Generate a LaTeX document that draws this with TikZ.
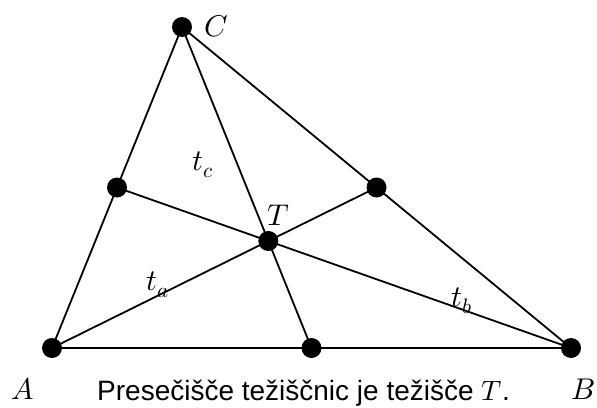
\documentclass[tikz,border=0pt]{standalone}
\usepackage{fontspec}
\setmainfont{Liberation Sans}
\usepackage{unicode-math}
\setmathfont{Latin Modern Math}
\usetikzlibrary{calc}
\begin{document}
\begin{tikzpicture}[x=1pt,y=-1pt,
  dot/.style={circle,fill=black,inner sep=0pt,minimum size=20pt},
  seg/.style={line width=1.8pt,black},
  lbl/.style={inner sep=0pt,font=\fontsize{30}{32}\selectfont},
  captext/.style={inner sep=0pt,anchor=base,font=\fontsize{28}{32}\selectfont}]
\useasboundingbox (0,0) rectangle (597,407);
\coordinate (A) at (52,348);
\coordinate (B) at (571,348);
\coordinate (C) at (182,27);
\coordinate (Mc) at ($(A)!0.5!(B)$);
\coordinate (Ma) at ($(B)!0.5!(C)$);
\coordinate (Mb) at ($(A)!0.5!(C)$);
\coordinate (T) at (268.33,241);
\draw[seg] (A) -- (B) -- (C) -- cycle;
\draw[seg] (A) -- (Ma);
\draw[seg] (B) -- (Mb);
\draw[seg] (C) -- (Mc);
\foreach \p in {A,B,C,Ma,Mb,Mc,T} \node[dot] (d\p) at (\p) {};
\node[lbl] (lA) at (23,389) {$A$};
\node[lbl] (lB) at (583,389) {$B$};
\node[lbl] (lC) at (216,26) {$C$};
\node[lbl] (lT) at (278,215) {$T$};
\node[lbl] (ltc) at (203,165) {$t_c$};
\node[lbl] (lta) at (158,285) {$t_a$};
\node[lbl] (ltb) at (462,301) {$t_b$};
\node[captext] (caption) at (303.5,400) {Presečišče težiščnic je težišče $T$.};
\end{tikzpicture}
\end{document}
